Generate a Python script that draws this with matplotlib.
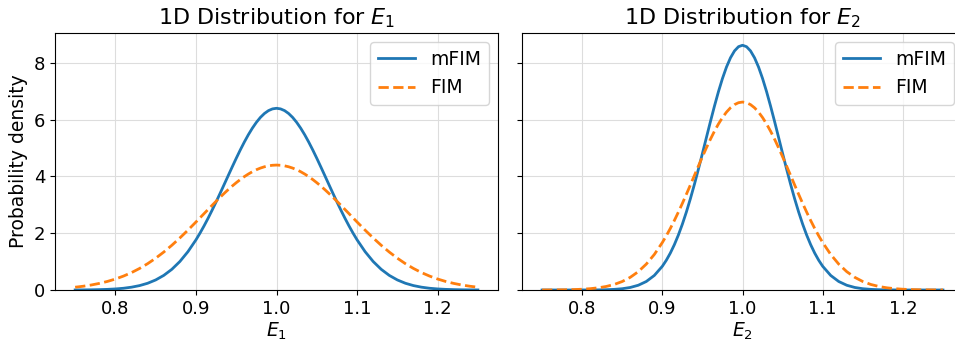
import matplotlib
matplotlib.use("Agg")
import matplotlib.pyplot as plt
import numpy as np

# parameter grid: step 0.01 in the tails, 0.005 around the peak
x_vals = np.concatenate([np.linspace(0.75, 0.89, 15),
                         np.linspace(0.90, 1.10, 41),
                         np.linspace(1.11, 1.25, 15)])

# densities, E1
mfim_e1 = [0.002, 0.004, 0.007, 0.013, 0.022, 0.037, 0.061, 0.099, 0.155, 0.237,
           0.354, 0.514, 0.727, 1.003, 1.349,
           1.767, 2.003, 2.256, 2.525, 2.809, 3.103, 3.407, 3.716, 4.027, 4.336,
           4.639, 4.932, 5.209, 5.467, 5.700, 5.905, 6.079, 6.217, 6.318, 6.379,
           6.400,
           6.379, 6.318, 6.217, 6.079, 5.905, 5.700, 5.467, 5.209, 4.932, 4.639,
           4.336, 4.027, 3.716, 3.407, 3.103, 2.809, 2.525, 2.256, 2.003, 1.767,
           1.349, 1.003, 0.727, 0.514, 0.354, 0.237, 0.155, 0.099, 0.061, 0.037,
           0.022, 0.013, 0.007, 0.004, 0.002]
fim_e1 = [0.098, 0.132, 0.176, 0.232, 0.301, 0.386, 0.490, 0.613, 0.759, 0.927,
          1.120, 1.336, 1.574, 1.833, 2.108,
          2.395, 2.541, 2.688, 2.835, 2.981, 3.125, 3.266, 3.403, 3.535, 3.661,
          3.779, 3.890, 3.992, 4.084, 4.166, 4.236, 4.294, 4.340, 4.373, 4.393,
          4.400,
          4.393, 4.373, 4.340, 4.294, 4.236, 4.166, 4.084, 3.992, 3.890, 3.779,
          3.661, 3.535, 3.403, 3.266, 3.125, 2.981, 2.835, 2.688, 2.541, 2.395,
          2.108, 1.833, 1.574, 1.336, 1.120, 0.927, 0.759, 0.613, 0.490, 0.386,
          0.301, 0.232, 0.176, 0.132, 0.098]

# densities, E2
mfim_e2 = [0.000, 0.000, 0.000, 0.000, 0.000, 0.001, 0.002, 0.004, 0.010, 0.022,
           0.045, 0.089, 0.167, 0.299, 0.512,
           0.835, 1.049, 1.301, 1.596, 1.935, 2.319, 2.747, 3.215, 3.720, 4.255,
           4.809, 5.373, 5.934, 6.476, 6.987, 7.450, 7.852, 8.179, 8.421, 8.570,
           8.620,
           8.570, 8.421, 8.179, 7.852, 7.450, 6.987, 6.476, 5.934, 5.373, 4.809,
           4.255, 3.720, 3.215, 2.747, 2.319, 1.935, 1.596, 1.301, 1.049, 0.835,
           0.512, 0.299, 0.167, 0.089, 0.045, 0.022, 0.010, 0.004, 0.002, 0.001,
           0.000, 0.000, 0.000, 0.000, 0.000]
fim_e2 = [0.001, 0.002, 0.005, 0.008, 0.015, 0.027, 0.046, 0.077, 0.124, 0.195,
          0.299, 0.446, 0.646, 0.912, 1.251,
          1.671, 1.911, 2.170, 2.448, 2.743, 3.051, 3.372, 3.700, 4.033, 4.365,
          4.692, 5.009, 5.311, 5.593, 5.848, 6.074, 6.265, 6.418, 6.529, 6.597,
          6.620,
          6.597, 6.529, 6.418, 6.265, 6.074, 5.848, 5.593, 5.311, 5.009, 4.692,
          4.365, 4.033, 3.700, 3.372, 3.051, 2.743, 2.448, 2.170, 1.911, 1.671,
          1.251, 0.912, 0.646, 0.446, 0.299, 0.195, 0.124, 0.077, 0.046, 0.027,
          0.015, 0.008, 0.005, 0.002, 0.001]

params = ["E_1", "E_2"]
curves = [(mfim_e1, fim_e1), (mfim_e2, fim_e2)]

fig = plt.figure(figsize=(9.55, 3.44), dpi=100)
ax1 = fig.add_axes([0.0576, 0.157, 0.4639, 0.747])
ax2 = fig.add_axes([0.5466, 0.157, 0.4618, 0.747], sharey=ax1)

for ax, name, (m, f) in zip([ax1, ax2], params, curves):
    ax.plot(x_vals, m, color="#1f77b4", lw=2, label="mFIM")
    ax.plot(x_vals, f, color="#ff7f0e", lw=2, ls="--", label="FIM")
    ax.set_title("1D Distribution for $%s$" % name, fontsize=16)
    ax.set_xlabel("$%s$" % name, fontsize=13.5, labelpad=2)
    ax.set_xticks([0.8, 0.9, 1.0, 1.1, 1.2])
    ax.tick_params(labelsize=13)
    ax.grid(True, color="#dddddd", lw=0.8)
    ax.legend(loc="upper right", fontsize=13.5)

ax1.set_ylabel("Probability density", fontsize=13.5)
ax1.set_ylim(bottom=0)
ax1.set_yticks([0, 2, 4, 6, 8])
plt.setp(ax2.get_yticklabels(), visible=False)

fig.savefig("out.png", dpi=100)
